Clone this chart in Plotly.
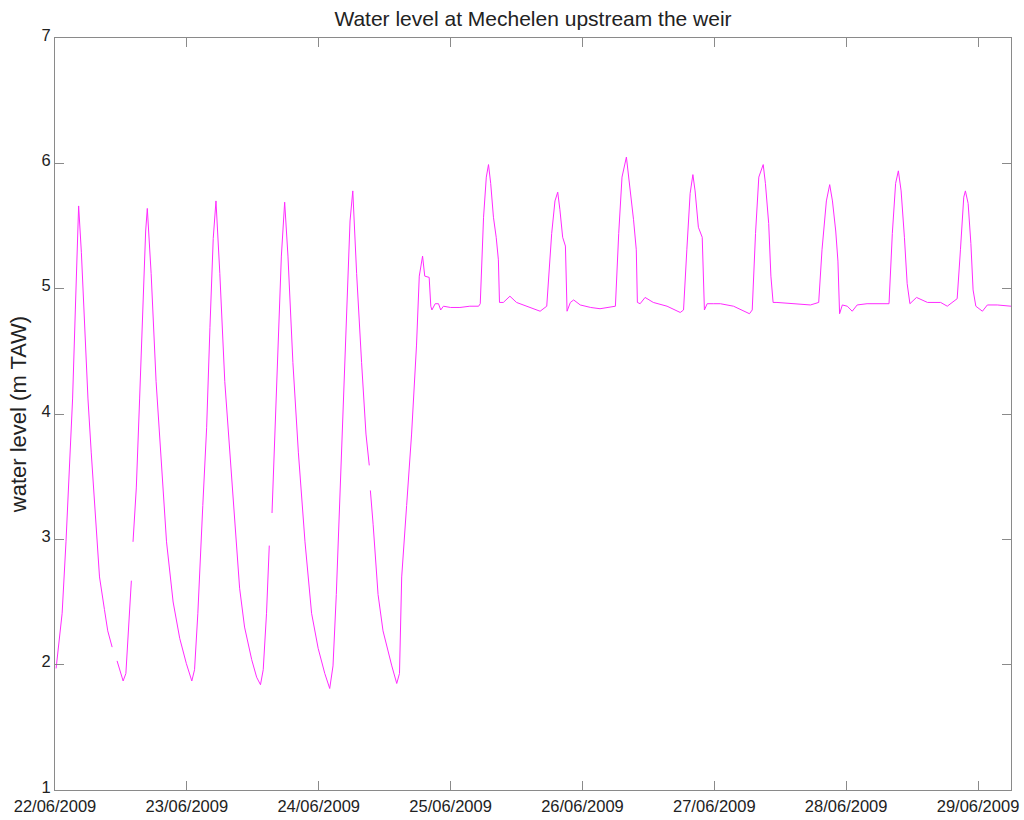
import pandas as pd
import plotly.graph_objects as go

# Hours since 22/06/2009 00:00 and water level (m TAW); None marks a data gap
hours = [
    0.2, 1.3, 2.0, 2.6, 3.2, 3.7, 4.0, 4.3, 4.8, 5.4, 6.0, 6.6, 7.2, 8.1, 9.0, 9.6, 10.4,
    10.8,
    11.3, 11.8, 12.4, 12.9, 13.3, 13.9,
    14.0,
    14.2, 14.8, 15.4, 16.0, 16.5, 16.8, 17.5, 18.4, 19.4, 20.3, 21.5, 22.7, 23.9, 24.9,
    25.4, 26.0, 26.9, 27.6, 28.2, 28.8, 29.3, 30.0, 30.9, 31.8, 32.7, 33.6, 34.5, 35.8,
    36.7, 37.4, 37.9, 38.5, 39.0,
    39.2,
    39.5, 40.0, 40.6, 41.2, 41.8, 42.4, 43.3, 44.3, 45.5, 46.7, 47.9, 49.1, 50.0, 50.6,
    51.2, 51.8, 52.5, 53.1, 53.7, 54.2, 54.9, 55.8, 56.6, 57.2,
    57.3,
    57.4, 57.9, 58.8, 59.7, 61.3, 62.2, 62.7, 63.1, 64.0, 64.9, 65.8, 66.3, 66.9, 67.3,
    68.1, 68.4, 68.6, 69.2, 69.8, 70.2, 70.7, 72.0, 73.7, 75.5, 77.1, 77.4, 78.0, 78.5,
    78.9, 79.3, 79.8, 80.3, 80.7, 80.9, 81.6, 82.8, 84.0, 85.9, 88.3, 89.5, 90.4, 91.0,
    91.5, 91.9, 92.4, 92.9, 93.2, 93.8, 94.4, 95.6, 97.5, 99.2, 102.0, 102.6, 103.2,
    104.0, 104.6, 105.3, 105.8, 106.0, 106.5, 107.4, 108.9, 111.4, 113.8, 114.4, 115.0,
    115.6, 116.1, 116.5, 117.1, 117.8, 118.2, 118.7, 119.9, 121.1, 123.5, 125.3, 126.4,
    126.9, 127.5, 128.1, 128.9, 129.3, 129.9, 130.3, 130.7, 131.4, 133.9, 137.5, 139.0,
    139.6, 140.4, 141.0, 141.5, 142.1, 142.5, 142.8, 143.3, 144.2, 145.1, 146.0, 147.8,
    150.3, 151.8, 152.4, 153.0, 153.5, 154.0, 154.6, 155.1, 155.6, 156.8, 158.8, 161.2,
    162.4, 164.2, 164.8, 165.4, 165.7, 166.2, 166.7, 167.1, 167.6, 168.8, 169.7, 171.5,
    174.0,
]
level = [
    1.97, 2.41, 2.98, 3.55, 4.12, 4.83, 5.26, 5.66, 5.29, 4.69, 4.12, 3.69, 3.27, 2.70, 2.44, 2.27, 2.14,
    None,
    2.03, 1.96, 1.87, 1.93, 2.27, 2.67,
    None,
    2.98, 3.41, 4.12, 4.83, 5.46, 5.64, 5.12, 4.26, 3.55, 2.98, 2.50, 2.21, 2.01, 1.87,
    1.96, 2.41, 3.27, 3.89, 4.69, 5.40, 5.70, 5.12, 4.26, 3.69, 3.12, 2.61, 2.30, 2.04,
    1.90, 1.84, 1.96, 2.41, 2.95,
    None,
    3.21, 3.84, 4.55, 5.26, 5.69, 5.26, 4.41, 3.69, 2.98, 2.41, 2.13, 1.93, 1.81, 1.99,
    2.56, 3.27, 3.98, 4.83, 5.54, 5.78, 5.12, 4.41, 3.84, 3.59,
    None,
    3.39, 3.12, 2.56, 2.27, 1.99, 1.85, 1.93, 2.70, 3.27, 3.84, 4.55, 5.10, 5.26, 5.10,
    5.09, 4.86, 4.83, 4.88, 4.88, 4.83, 4.86, 4.85, 4.85, 4.86, 4.86, 4.88, 5.57, 5.89,
    5.99, 5.84, 5.57, 5.41, 5.23, 4.89, 4.89, 4.94, 4.89, 4.86, 4.82, 4.86, 5.44, 5.70,
    5.77, 5.63, 5.41, 5.34, 4.82, 4.89, 4.91, 4.87, 4.85, 4.84, 4.86, 5.44, 5.89,
    6.05, 5.84, 5.55, 5.31, 4.89, 4.88, 4.93, 4.89, 4.86, 4.81, 4.83, 5.31,
    5.76, 5.91, 5.78, 5.49, 5.41, 4.83, 4.88, 4.88, 4.88, 4.86, 4.82, 4.80,
    4.83, 5.44, 5.89, 5.99, 5.84, 5.52, 5.10, 4.89, 4.89, 4.88, 4.87, 4.89,
    5.31, 5.70, 5.83, 5.70, 5.46, 5.22, 4.80, 4.87, 4.86, 4.82, 4.87, 4.88,
    4.88, 4.88, 5.44, 5.84, 5.94, 5.78, 5.41, 5.04, 4.88, 4.93, 4.89, 4.89,
    4.86, 4.92, 5.31, 5.73, 5.78, 5.68, 5.36, 4.99, 4.86, 4.82, 4.87, 4.87,
    4.86,
]

start = pd.Timestamp("2009-06-22 00:00")
times = [start + pd.Timedelta(hours=h) for h in hours]

x_range = ["2009-06-22 00:00", "2009-06-29 06:00"]
y_range = [1, 7]

title_text = "Water level at Mechelen upstream the weir"
y_title = "water level (m TAW)"

font_family = "Liberation Sans, Arial, Helvetica, sans-serif"
axis_grey = "#8a8a8a"

fig = go.Figure()
fig.add_trace(go.Scatter(
    x=times, y=level, mode="lines",
    line=dict(color="#ff2bff", width=1),
    connectgaps=False, showlegend=False, hoverinfo="skip",
))

fig.update_layout(
    width=1024, height=820,
    margin=dict(l=55, r=13, t=38, b=30, autoexpand=False),
    paper_bgcolor="white", plot_bgcolor="white",
    font=dict(family=font_family, color="#222222", size=16.5),
    title=dict(text=title_text, x=0.5, xref="paper", xanchor="center",
               y=1 - 19 / 820, yanchor="middle",
               font=dict(size=21, family=font_family, color="#222222")),
)
fig.update_xaxes(
    range=x_range, type="date", automargin=False,
    tick0="2009-06-22", dtick=86400000, tickformat="%d/%m/%Y",
    ticks="inside", ticklen=9, tickcolor=axis_grey, tickwidth=1,
    showline=True, linecolor=axis_grey, linewidth=1, mirror="ticks",
    showgrid=False, zeroline=False, ticklabelstandoff=1,
    tickfont=dict(size=16.5, family=font_family, color="#222222"),
)
fig.update_yaxes(
    range=y_range, tick0=1, dtick=1, automargin=False,
    ticks="inside", ticklen=9, tickcolor=axis_grey, tickwidth=1,
    showline=True, linecolor=axis_grey, linewidth=1, mirror="ticks",
    showgrid=False, zeroline=False, ticklabelshift=-3,
    tickfont=dict(size=16.5, family=font_family, color="#222222"),
    title=dict(text=y_title, font=dict(size=22, family=font_family, color="#222222"),
               standoff=8),
)

fig.write_html("out.html")
